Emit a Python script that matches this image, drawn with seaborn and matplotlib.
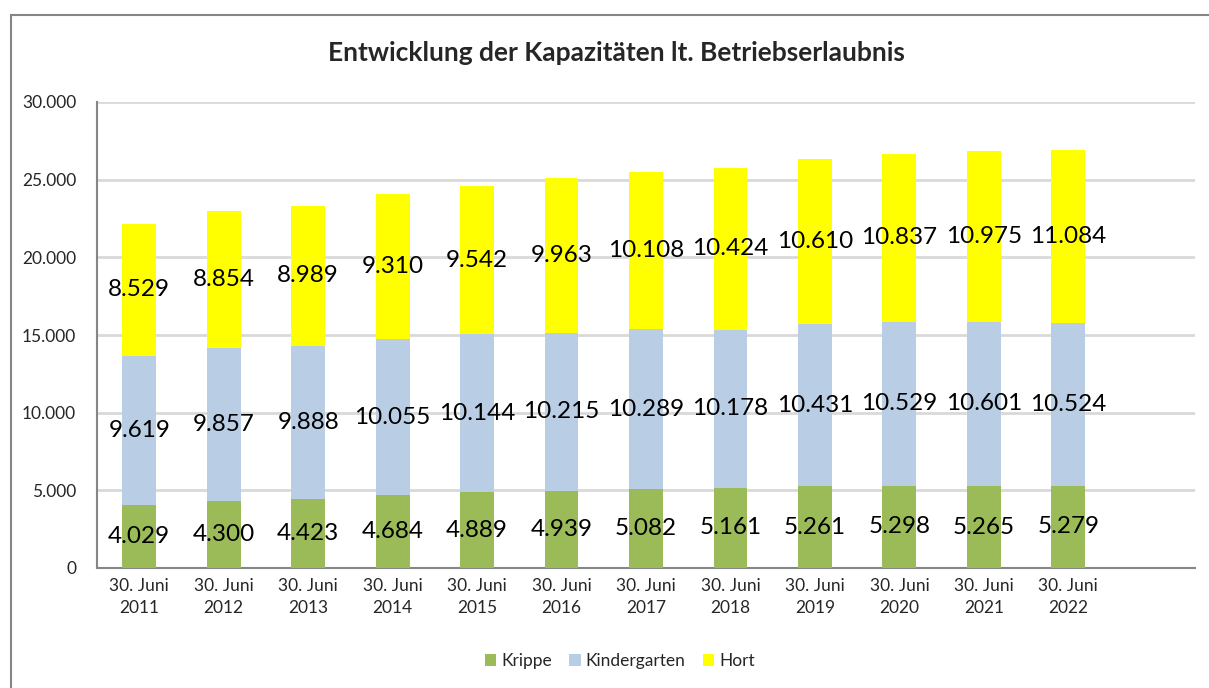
import matplotlib
matplotlib.use('Agg')
import matplotlib.pyplot as plt
import pandas as pd
import seaborn as sns
from matplotlib.patches import Rectangle
from matplotlib.ticker import FuncFormatter

# Werte aus dem Diagramm
years = ['2011', '2012', '2013', '2014', '2015', '2016', '2017', '2018', '2019', '2020', '2021', '2022']
krippe = [4029, 4300, 4423, 4684, 4889, 4939, 5082, 5161, 5261, 5298, 5265, 5279]
kindergarten = [9619, 9857, 9888, 10055, 10144, 10215, 10289, 10178, 10431, 10529, 10601, 10524]
hort = [8529, 8854, 8989, 9310, 9542, 9963, 10108, 10424, 10610, 10837, 10975, 11084]
series_names = ['Krippe', 'Kindergarten', 'Hort']
colors = ['#9BBB59', '#B9CDE5', '#FFFF00']
yticks = [0, 5000, 10000, 15000, 20000, 25000, 30000]

categories = ['30. Juni\n' + y for y in years]
df = pd.DataFrame({'Kategorie': categories, 'Krippe': krippe,
                   'Kindergarten': kindergarten, 'Hort': hort})

sns.set_style('white')
plt.rcParams['font.family'] = ['Lato', 'DejaVu Sans']

fig = plt.figure(figsize=(12.09, 6.88), dpi=100)
ax = fig.add_axes([97 / 1209, 1 - 568 / 688, (1195 - 97) / 1209, (568 - 102) / 688])

# gestapelte Balken mit seaborn, jeweils mit kumulierter Basis
bottom = [0] * len(years)
for name, col in zip(series_names, colors):
    tops = [b + v for b, v in zip(bottom, df[name])]
    sns.barplot(x=df['Kategorie'], y=tops, color=col, width=0.4, ax=ax,
                label=name, saturation=1)
    bottom = tops

# untere Segmente nach vorne holen
for i, cont in enumerate(ax.containers):
    for bar in cont:
        bar.set_zorder(5 - i)
        bar.set_edgecolor('none')

# Beschriftungen in der Segmentmitte
bottom = [0] * len(years)
for name in series_names:
    for i, v in enumerate(df[name]):
        ax.text(i, bottom[i] + v / 2, f'{v:,}'.replace(',', '.'), ha='center', va='center',
                fontsize=17.5, color='black', zorder=10)
    bottom = [b + v for b, v in zip(bottom, df[name])]

ax.set_xlim(-0.5, len(years) + 0.5)
ax.set_ylim(0, 30000)
ax.set_yticks(yticks)
ax.yaxis.set_major_formatter(FuncFormatter(lambda v, p: f'{int(v):,}'.replace(',', '.')))
ax.set_xticks(range(len(years)))
ax.set_xticklabels(categories, fontsize=12.5, linespacing=1.45)
ax.set_xticks([i - 0.5 for i in range(len(years) + 2)], minor=True)
ax.tick_params(axis='x', which='major', length=0, pad=7)
ax.tick_params(axis='x', which='minor', length=5, width=1.5, color='#868686', direction='out')
ax.tick_params(axis='y', length=5, width=1.5, color='#868686', labelsize=12.5, direction='out', pad=10)
ax.grid(axis='y', color='#D9D9D9', linewidth=2, zorder=0)
ax.set_axisbelow(True)
ax.set_xlabel('')
ax.set_ylabel('')
for s in ['top', 'right']:
    ax.spines[s].set_visible(False)
for s in ['left', 'bottom']:
    ax.spines[s].set_color('#868686')
    ax.spines[s].set_linewidth(1.5)

handles, labels = ax.get_legend_handles_labels()
fig.legend(handles, labels, loc='center', bbox_to_anchor=(620 / 1209, 1 - 661 / 688),
           ncol=3, frameon=False, fontsize=12.5, handlelength=0.65, handleheight=0.65,
           handletextpad=0.3, columnspacing=1.0)
if ax.get_legend():
    ax.get_legend().remove()

fig.text(616 / 1209, 1 - 53 / 688, 'Entwicklung der Kapazitäten lt. Betriebserlaubnis',
         ha='center', va='center', fontsize=19, fontweight='bold')

# äußerer Rahmen
fig.patches.append(Rectangle((11 / 1209, -0.05), 1.1, 1 - 15 / 688 + 0.05, transform=fig.transFigure,
                             fill=False, edgecolor='#868686', linewidth=1.5))

fig.savefig('out.png', dpi=100)
